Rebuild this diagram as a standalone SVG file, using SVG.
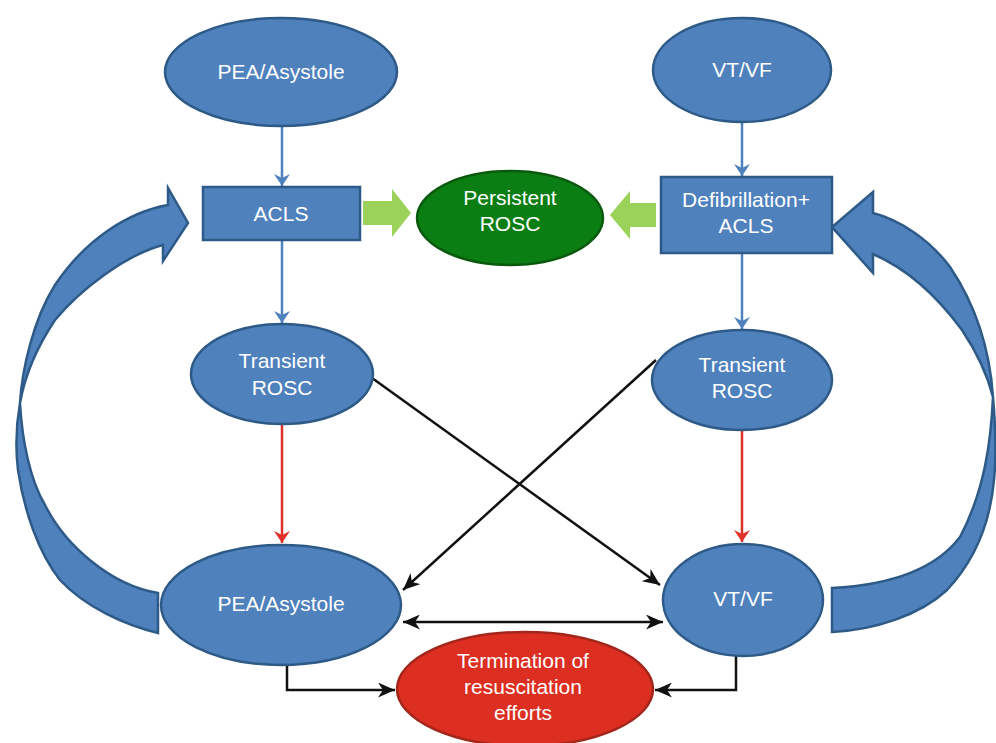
<svg xmlns="http://www.w3.org/2000/svg" width="996" height="743" viewBox="0 0 996 743">
<defs>
<style>
.node{fill:#4F81BD;stroke:#2E5A87;stroke-width:2.5}
.lbl{font-family:"Liberation Sans",Arial,sans-serif;font-size:21px;fill:#fff;text-anchor:middle}
.blue{stroke:#4F81BD;stroke-width:2.5;fill:none}
.red{stroke:#E0302A;stroke-width:2.5;fill:none}
.blk{stroke:#111;stroke-width:2.5;fill:none}
.big{fill:#4F81BD;stroke:#2E5A87;stroke-width:2.5;stroke-linejoin:miter}
.grn{fill:#9BD35A}
</style>
<marker id="ab" viewBox="0 0 12 16" refX="12" refY="8" markerWidth="12" markerHeight="16" markerUnits="userSpaceOnUse" orient="auto">
<path d="M0,0 L12,8 L0,16 L4,8 Z" fill="#4F81BD"/>
</marker>
<marker id="ar" viewBox="0 0 12 16" refX="12" refY="8" markerWidth="12" markerHeight="16" markerUnits="userSpaceOnUse" orient="auto">
<path d="M0,0 L12,8 L0,16 L4,8 Z" fill="#E0302A"/>
</marker>
<marker id="ak" viewBox="0 0 17 15" refX="17" refY="7.5" markerWidth="17" markerHeight="15" markerUnits="userSpaceOnUse" orient="auto-start-reverse">
<path d="M0,0 L17,7.5 L0,15 L5,7.5 Z" fill="#111"/>
</marker>
</defs>

<g id="connectors">
<line class="blue" x1="282" y1="127" x2="282" y2="186" marker-end="url(#ab)"/>
<line class="blue" x1="282" y1="241" x2="282" y2="323" marker-end="url(#ab)"/>
<line class="blue" x1="742" y1="123" x2="742" y2="176" marker-end="url(#ab)"/>
<line class="blue" x1="742" y1="254" x2="742" y2="329" marker-end="url(#ab)"/>
<line class="red" x1="282" y1="425" x2="282" y2="543" marker-end="url(#ar)"/>
<line class="red" x1="742" y1="431" x2="742" y2="542" marker-end="url(#ar)"/>
<line class="blk" x1="372" y1="378" x2="660" y2="585" marker-end="url(#ak)"/>
<line class="blk" x1="656" y1="360" x2="403" y2="590" marker-end="url(#ak)"/>
<line class="blk" x1="403" y1="622" x2="663" y2="622" marker-start="url(#ak)" marker-end="url(#ak)"/>
<polyline class="blk" points="287,664 287,690 395,690" marker-end="url(#ak)"/>
<polyline class="blk" points="736,655 736,690 655,690" marker-end="url(#ak)"/>
<path class="grn" d="M363,201 L392,201 L392,189 L411,213 L392,237 L392,225 L363,225 Z"/>
<path class="grn" d="M656,203 L630,203 L630,191 L610,215 L630,239 L630,227 L656,227 Z"/>
<path class="big" d="M158,633 C125,625 85,607 60,580 C38,552 24,510 18,470 C15,445 17,420 20,403 C22,370 33,320 55,285 C85,240 128,212 168,205 L168,188 L188,223 L163,261 L163,245 C125,255 80,290 55,320 C35,350 24,380 20,403 C22,440 30,480 45,505 C65,545 110,585 158,593 Z"/>
<path class="big" d="M832,632 C875,630 920,615 947,590 C975,560 990,525 994,480 C997,450 995,420 993,397 C990,353 977,307 950,267 C930,240 900,220 873,213 L873,192 L832,227 L873,273 L873,254 C910,270 940,300 962,330 C982,360 990,385 993,397 C991,440 985,490 960,537 C935,570 890,585 832,588 Z"/>
</g>

<g id="n-pea-top"><ellipse class="node" cx="281" cy="72" rx="116" ry="54"/><text class="lbl" x="281" y="79">PEA/Asystole</text></g>
<g id="n-vtvf-top"><ellipse class="node" cx="742" cy="70" rx="89" ry="52"/><text class="lbl" x="742" y="77">VT/VF</text></g>
<g id="n-acls"><rect class="node" x="203" y="187" width="157" height="53"/><text class="lbl" x="281" y="221">ACLS</text></g>
<g id="n-persistent"><ellipse cx="510" cy="218" rx="93" ry="47" fill="#0B7E13" stroke="#0A5A0E" stroke-width="2.5"/><text class="lbl" x="510" y="205">Persistent</text><text class="lbl" x="510" y="231">ROSC</text></g>
<g id="n-defib"><rect class="node" x="661" y="177" width="171" height="76"/><text class="lbl" x="746" y="207">Defibrillation+</text><text class="lbl" x="746" y="233">ACLS</text></g>
<g id="n-trans-left"><ellipse class="node" cx="282" cy="374" rx="91" ry="50"/><text class="lbl" x="282" y="368">Transient</text><text class="lbl" x="282" y="395">ROSC</text></g>
<g id="n-trans-right"><ellipse class="node" cx="742" cy="380" rx="90" ry="50"/><text class="lbl" x="742" y="372">Transient</text><text class="lbl" x="742" y="398">ROSC</text></g>
<g id="n-pea-bottom"><ellipse class="node" cx="281" cy="605" rx="120" ry="60"/><text class="lbl" x="281" y="611">PEA/Asystole</text></g>
<g id="n-vtvf-bottom"><ellipse class="node" cx="743" cy="600" rx="80" ry="56"/><text class="lbl" x="743" y="606">VT/VF</text></g>
<g id="n-termination"><ellipse cx="525" cy="689" rx="128" ry="57" fill="#DC2E21" stroke="#A3261B" stroke-width="2.5"/><text class="lbl" x="523" y="668">Termination of</text><text class="lbl" x="523" y="694">resuscitation</text><text class="lbl" x="523" y="720">efforts</text></g>
</svg>
